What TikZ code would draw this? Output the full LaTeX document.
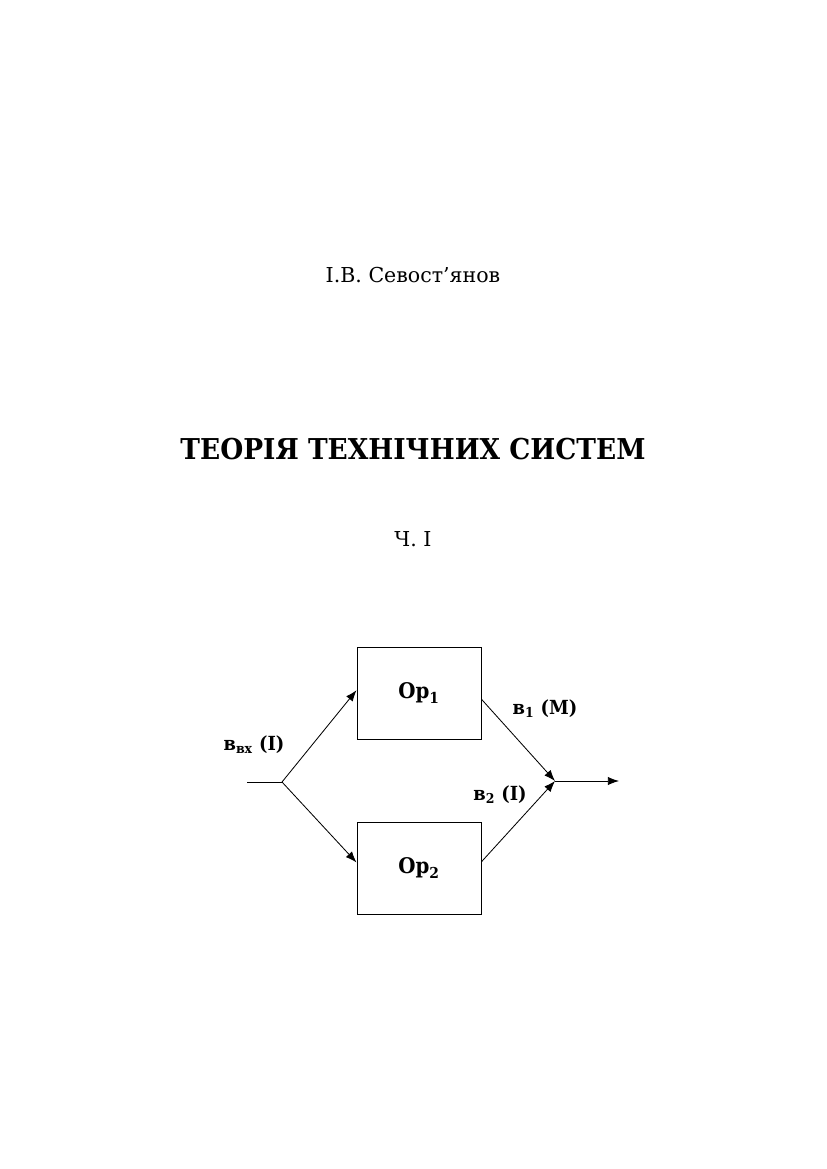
\documentclass[tikz,border=0pt]{standalone}
\usepackage{fontspec}
\setmainfont{DejaVu Serif}[BoldFeatures={FakeStretch=0.92}]
\usetikzlibrary{arrows.meta}

\tikzset{
    opbox/.style={draw, line width=0.7pt, minimum width=124pt*0.7207, minimum height=92pt*0.7207, font=\fontsize{15.5}{18}\selectfont\bfseries},
    flow/.style={line width=0.6pt, -{Latex[length=8pt,width=6pt]}},
    sig/.style={font=\fontsize{14}{17}\selectfont\bfseries},
}

\begin{document}
\begin{tikzpicture}[x=0.7207pt, y=-0.7207pt]
    \useasboundingbox (0,0) rectangle (826,1169);
    \node[anchor=base, font=\fontsize{14.8}{18}\selectfont] (author) at (413,282) {І.В. Севост’янов};
    \node[anchor=base, font=\fontsize{20.7}{25}\selectfont\bfseries] (title) at (413,459) {ТЕОРІЯ ТЕХНІЧНИХ СИСТЕМ};
    \node[anchor=base, font=\fontsize{14.8}{18}\selectfont] (part) at (413,546) {Ч. І};
    \node[opbox] (op1) at (419,693) {Ор\textsubscript{1}};
    \node[opbox] (op2) at (419,868) {Ор\textsubscript{2}};
    \coordinate (in) at (247,782);
    \coordinate (fork) at (282,782);
    \coordinate (join) at (555,781);
    \coordinate (out) at (619,781);
    \draw[line width=0.6pt] (in) -- (fork);
    \draw[flow] (fork) -- ([yshift=2pt]op1.west);
    \draw[flow] (fork) -- ([yshift=4pt]op2.west);
    \draw[flow] ([yshift=-4.5pt]op1.east) -- (join);
    \draw[flow] ([yshift=4.5pt]op2.east) -- (join);
    \draw[flow] (join) -- (out);
    \node[sig] (vin) at (254,745) {в\textsubscript{вх} (І)};
    \node[sig] (v1) at (545,709) {в\textsubscript{1} (М)};
    \node[sig] (v2) at (500,795) {в\textsubscript{2} (І)};
\end{tikzpicture}
\end{document}
